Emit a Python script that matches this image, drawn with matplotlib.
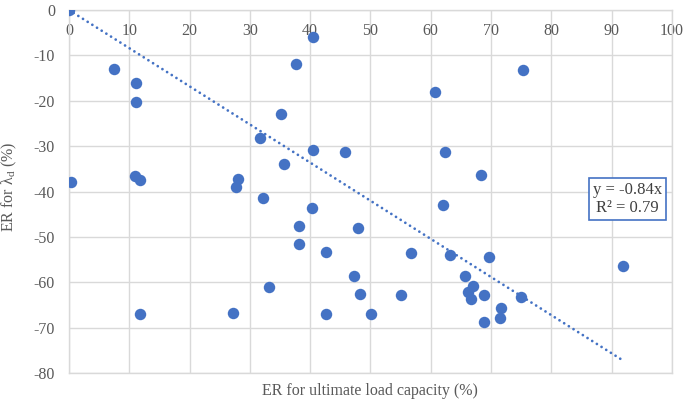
import numpy as np
import matplotlib
matplotlib.use('Agg')
import matplotlib.pyplot as plt

# values
er_load = [0.0, 7.4, 11.1, 11.1, 35.2, 37.7, 40.4, 31.6, 40.4, 45.8, 35.7, 0.3,
           11.0, 11.7, 28.0, 27.7, 32.1, 75.3, 60.7, 62.3, 68.3, 40.3, 38.2, 38.1,
           42.6, 33.1, 11.7, 27.2, 42.6, 62.1, 47.9, 56.7, 63.2, 69.7, 91.9, 47.3,
           65.6, 67.0, 66.2, 66.6, 48.2, 55.1, 68.9, 74.9, 71.7, 71.4, 68.9, 50.1]
er_lambda = [0.0, -13.0, -16.1, -20.2, -22.8, -11.9, -6.0, -28.1, -30.8, -31.2, -34.0, -37.8,
             -36.6, -37.5, -37.3, -38.9, -41.3, -13.1, -18.1, -31.2, -36.3, -43.6, -47.6, -51.5,
             -53.2, -61.0, -66.9, -66.7, -67.0, -42.9, -48.1, -53.6, -54.0, -54.3, -56.4, -58.6,
             -58.5, -60.8, -62.2, -63.7, -62.5, -62.7, -62.8, -63.2, -65.6, -67.8, -68.7, -67.0]
slope = -0.84
r2 = 0.79
x_ticks = list(range(0, 101, 10))
y_ticks = list(range(-80, 1, 10))

plt.rcParams['font.family'] = ['Liberation Serif', 'DejaVu Serif']
plt.rcParams['mathtext.fontset'] = 'custom'
plt.rcParams['mathtext.rm'] = 'Liberation Serif'
plt.rcParams['axes.unicode_minus'] = False

blue = '#4472C4'
grey_txt = '#595959'
grid_c = '#d9d9d9'

fig = plt.figure(figsize=(6.85, 3.99), dpi=100)
ax = fig.add_axes([0.1007, 0.0644, 0.8803, 0.9105])

ax.scatter(er_load, er_lambda, s=68, color=blue, zorder=3, linewidths=0)

# linear trendline through origin
xs = np.array([0, max(er_load)])
ax.plot(xs, slope * xs, color=blue, lw=2.0, linestyle=(0, (0.01, 1.98)),
        dash_capstyle='round', zorder=2)

ax.set_xlim(0, 100)
ax.set_ylim(-80, 0)
ax.set_xticks(x_ticks)
ax.set_yticks(y_ticks)
ax.grid(True, color=grid_c, lw=1.0)
ax.set_axisbelow(True)
for s in ax.spines.values():
    s.set_color(grid_c)
    s.set_linewidth(1.0)

ax.tick_params(axis='x', top=True, labeltop=True, bottom=False, labelbottom=False,
               length=0, pad=-21, labelsize=11.5, labelcolor=grey_txt)
ax.tick_params(axis='y', length=0, pad=10, labelsize=11.5, labelcolor=grey_txt)

ax.set_xlabel('ER for ultimate load capacity (%)', fontsize=11.5, color=grey_txt)
ax.xaxis.set_label_coords(0.499, -0.027)
ax.set_ylabel('ER for λ$_{\\mathrm{d}}$ (%)', fontsize=11.5, color=grey_txt)
ax.yaxis.set_label_coords(-0.083, 0.512)

ax.text(92.6, -41.6, f'y = {slope:.2f}x\nR² = {r2:.2f}', ha='center', va='center',
        fontsize=12, color='#404040', multialignment='center',
        bbox=dict(boxstyle='square,pad=0.25', fc='white', ec=blue, lw=1.2), zorder=4)

fig.savefig('out.png', dpi=100)
